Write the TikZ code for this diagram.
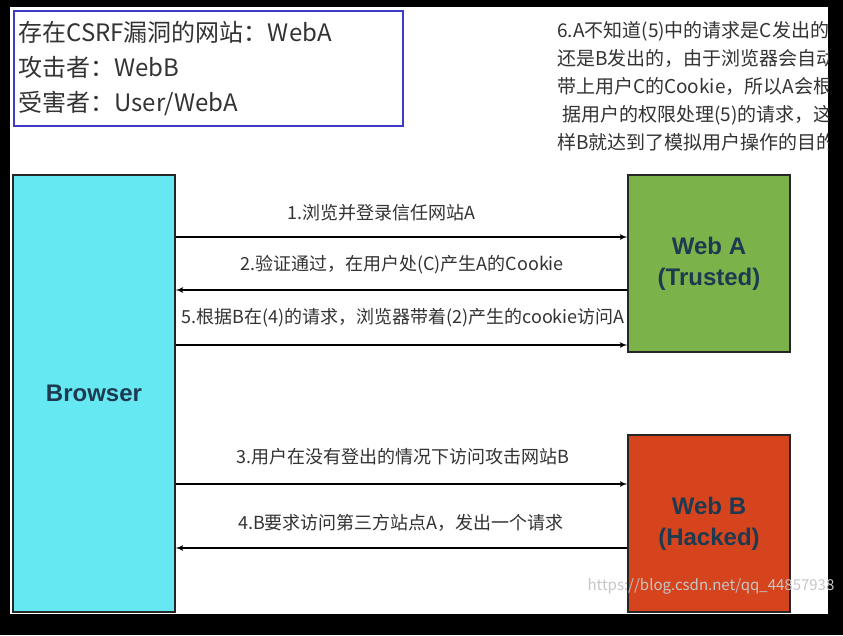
\documentclass[tikz,border=0pt]{standalone}
\usepackage{fontspec}
\setmainfont{Liberation Sans}
\newfontfamily\cjk{Noto Sans CJK SC}
\usetikzlibrary{arrows,positioning}

\definecolor{browsercyan}{HTML}{66E8F2}
\definecolor{trustgreen}{HTML}{7BB24A}
\definecolor{hackred}{HTML}{D6441E}
\definecolor{infoblue}{HTML}{3C3CC8}
\definecolor{sitetext}{HTML}{1E3A50}
\definecolor{msgtext}{HTML}{333333}

\begin{document}
\begin{tikzpicture}[x=1pt,y=-1pt,
		site_box/.style ={rectangle, draw=black!85, line width=1.2pt,
			minimum width=162pt, text=sitetext, align=center,
			font=\fontsize{24}{31}\selectfont\bfseries},
		info_box/.style ={rectangle, draw=infoblue, line width=2pt, fill=white,
			minimum width=389pt, minimum height=115pt, text width=380pt, align=left,
			text=msgtext, font=\cjk\fontsize{24}{35}\selectfont},
		msg_label/.style ={inner sep=0pt, text=msgtext, font=\cjk\fontsize{18}{20}\selectfont},
		note_text/.style ={inner sep=0pt, align=left, text=msgtext,
			font=\cjk\fontsize{19}{28}\selectfont},
		line/.style ={draw, line width=1.6pt, -latex', shorten >=0pt}]

	% frame of the screenshot
	\useasboundingbox (0,0) rectangle (843,635);
	\fill[black] (0,0) rectangle (843,635);
	\fill[white] (10,7) rectangle (828,614);

	% who is who
	\node [info_box, anchor=north west] (info) at (13,10) {存在CSRF漏洞的网站：WebA\\
		攻击者：WebB\\
		受害者：User/WebA};

	% step 6 explanation, cut off at the right edge
	\begin{scope}
		\clip (10,7) rectangle (828,614);
		\node [note_text, anchor=north west] (note) at (557,21) {6.A不知道(5)中的请求是C发出的\\
			还是B发出的，由于浏览器会自动\\
			带上用户C的Cookie，所以A会根\\
			\hspace{5pt}据用户的权限处理(5)的请求，这\\
			样B就达到了模拟用户操作的目的};
	\end{scope}

	% the three parties
	\node [site_box, fill=browsercyan, minimum height=437pt] (browser) at (94,393.5) {Browser};
	\node [site_box, fill=trustgreen, minimum height=177pt] (weba) at (709,263.5) {Web A\\(Trusted)};
	\node [site_box, fill=hackred, minimum height=177pt] (webb) at (709,523.5) {Web B\\(Hacked)};

	% connecting nodes with paths
	\begin{scope}[every path/.style=line]
		\path (browser.east |- 0,237) -- (weba.west |- 0,237);
		\path (weba.west |- 0,290) -- (browser.east |- 0,290);
		\path (browser.east |- 0,345) -- (weba.west |- 0,345);
		\path (browser.east |- 0,484) -- (webb.west |- 0,484);
		\path (webb.west |- 0,548) -- (browser.east |- 0,548);
	\end{scope}

	% labels of the requests
	\node [msg_label] (m1) at (381,213) {1.浏览并登录信任网站A};
	\node [msg_label] (m2) at (402,265) {2.验证通过，在用户处(C)产生A的Cookie};
	\node [msg_label] (m5) at (403,318) {5.根据B在(4)的请求，浏览器带着(2)产生的cookie访问A};
	\node [msg_label] (m3) at (403,457) {3.用户在没有登出的情况下访问攻击网站B};
	\node [msg_label] (m4) at (401,523) {4.B要求访问第三方站点A，发出一个请求};

	% watermark
	\node [inner sep=0pt, text=gray!45, font=\cjk\fontsize{15}{18}\selectfont] (mark) at (711,586) {https://blog.csdn.net/qq\_44857938};
\end{tikzpicture}
\end{document}
